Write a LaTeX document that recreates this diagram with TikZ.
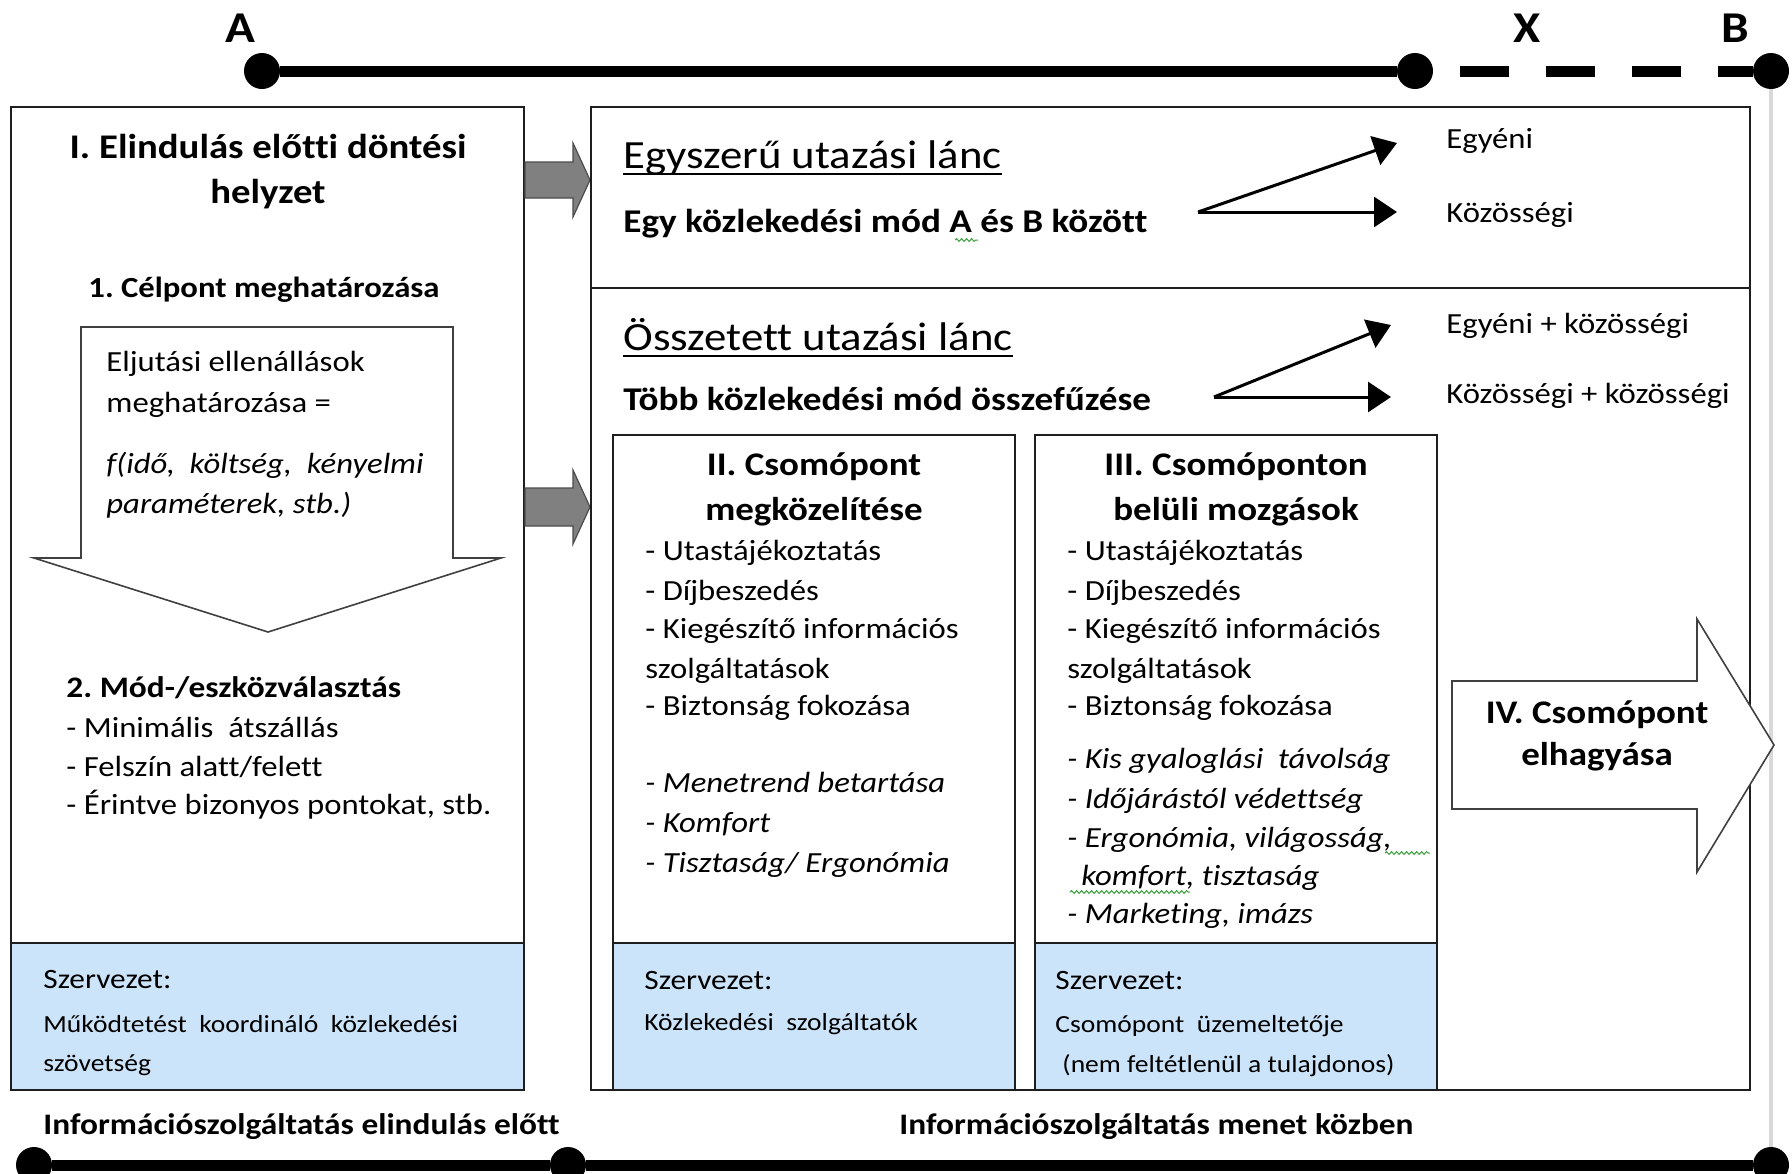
\documentclass[tikz,border=0pt]{standalone}
\usepackage{fontspec}
\setmainfont{Carlito}[FakeStretch=1.12, Ligatures={NoCommon}]
\usetikzlibrary{arrows.meta,decorations.pathmorphing}
\definecolor{orgblue}{RGB}{204,228,250}
\definecolor{boxline}{RGB}{30,30,30}
\definecolor{arrgray}{RGB}{128,128,128}
\definecolor{spellgreen}{RGB}{60,160,60}
\frenchspacing
\begin{document}
\begin{tikzpicture}[x=0.5pt,y=-0.5pt,
  txt/.style={inner sep=0pt, anchor=base west},
  ctxt/.style={inner sep=0pt, anchor=base},
  lab/.style={ctxt, font=\fontsize{22}{26}\selectfont\bfseries},
  ttl/.style={ctxt, font=\fontsize{17.3}{20}\selectfont\bfseries},
  hd/.style={txt, font=\fontsize{14.9}{18}\selectfont\bfseries},
  hdc/.style={ctxt, font=\fontsize{14.6}{18}\selectfont\bfseries},
  body/.style={txt, font=\fontsize{14.6}{17}\selectfont},
  bodyit/.style={txt, font=\fontsize{14.6}{17}\selectfont\itshape},
  big/.style={txt, font=\fontsize{20}{24}\selectfont},
  chain/.style={txt, font=\fontsize{16.6}{19}\selectfont\bfseries},
  nhd/.style={ctxt, font=\fontsize{16.5}{19}\selectfont\bfseries},
  orgh/.style={txt, font=\fontsize{14}{17}\selectfont},
  orgt/.style={txt, font=\fontsize{12.3}{15}\selectfont},
  frame/.style={draw=boxline, line width=1pt},
  org/.style={frame, fill=orgblue},
  conn/.style={line width=1.5pt, -{Triangle[length=11.5pt,width=15pt]}},
  blockarrow/.style={draw=black!75, line width=0.8pt, fill=white},
  grayarrow/.style={draw=black!70, line width=0.6pt, fill=arrgray},
  track/.style={line width=5.5pt},
  dotn/.style={circle, fill=black, inner sep=0pt, minimum size=18pt},
  spell/.style={draw=spellgreen, line width=0.5pt, decorate, decoration={snake, amplitude=0.7pt, segment length=2.5pt}},
  uline/.style={line width=1pt}
]
\useasboundingbox (0,0) rectangle (1792,1173);
\clip (0,0) rectangle (1792,1173);

% ---- track dots and guide line ----
\node[dotn] (A) at (262,71) {};
\node[dotn] (X) at (1415,71) {};
\node[dotn] (B) at (1771,71) {};
\node[dotn] (L1) at (34,1165) {};
\node[dotn] (L2) at (568,1165) {};
\node[dotn] (L3) at (1771,1165) {};
\draw[line width=2pt, draw=black!15] (B) -- (L3);
\draw[track] (A) -- (X);
\draw[track, dash pattern=on 24.5pt off 18.5pt, dash phase=29.5pt] (X) -- (B);
\draw[track] (L1) -- (L2) -- (L3);
\node[lab] (labA) at (240,42) {A};
\node[lab] (labX) at (1527,42) {X};
\node[lab] (labB) at (1735,42) {B};

% ---- left box ----
\draw[frame, fill=white] (11,107) rectangle (524,1090);
\draw[org] (11,943) rectangle (524,1090);
\node[ttl] (t1a) at (268,158) {I. Elindulás előtti döntési};
\node[ttl] (t1b) at (268,203) {helyzet};
\node[hdc] (c1) at (264,297) {1. Célpont meghatározása};
\draw[blockarrow] (81,327) -- (453,327) -- (453,558) -- (501,558) -- (268,632) -- (34,558) -- (81,558) -- cycle;
\node[body] (e1) at (106,371) {Eljutási ellenállások};
\node[body] (e2) at (106,412) {meghatározása =};
\node[bodyit] (e3) at (106,473) {f(idő, \ költség, \ kényelmi};
\node[bodyit] (e4) at (106,513) {paraméterek, stb.)};
\node[hd] (m0) at (66,697) {2. Mód-/eszközválasztás};
\node[body] (m1) at (66,737) {- Minimális \ átszállás};
\node[body] (m2) at (66,776) {- Felszín alatt/felett};
\node[body] (m3) at (66,814) {- Érintve bizonyos pontokat, stb.};
\node[orgh] (o1a) at (43,988) {Szervezet:};
\node[orgt] (o1b) at (43,1032) {Működtetést \ koordináló \ közlekedési};
\node[orgt] (o1c) at (43,1071) {szövetség};

% ---- gray arrows ----
\draw[grayarrow] (525,162) -- (573,162) -- (573,143) -- (590,180) -- (573,217) -- (573,198) -- (525,198) -- cycle;
\draw[grayarrow] (525,488) -- (573,488) -- (573,470) -- (590,507) -- (573,544) -- (573,526) -- (525,526) -- cycle;

% ---- right box ----
\draw[frame, fill=white] (591,107) rectangle (1750,1090);
\draw[frame] (591,288) -- (1750,288);
\node[big] (s1) at (623,168) {Egyszerű utazási lánc};
\draw[uline] ([yshift=-3pt]s1.base west) -- ([yshift=-3pt]s1.base east);
\node[chain] (s2) at (623,232) {Egy közlekedési mód A és B között};
\draw[spell] (955,240) -- (978,240);
\coordinate (sa) at (1198,212);
\coordinate (sa1) at (1397,143);
\coordinate (sa2) at (1397,212);
\draw[conn] (sa) -- (sa1);
\draw[conn] (sa) -- (sa2);
\node[body] (egy) at (1446,148) {Egyéni};
\node[body] (koz) at (1446,222) {Közösségi};

\node[big] (c2) at (623,350) {Összetett utazási lánc};
\draw[uline] ([yshift=-3pt]c2.base west) -- ([yshift=-3pt]c2.base east);
\node[chain] (c3) at (623,410) {Több közlekedési mód összefűzése};
\coordinate (ca) at (1214,397);
\coordinate (ca1) at (1391,325);
\coordinate (ca2) at (1391,397);
\draw[conn] (ca) -- (ca1);
\draw[conn] (ca) -- (ca2);
\node[body] (egyk) at (1446,333) {Egyéni + közösségi};
\node[body] (kozk) at (1446,403) {Közösségi + közösségi};

% ---- box II ----
\draw[frame] (613,435) rectangle (1015,1090);
\draw[org] (613,943) rectangle (1015,1090);
\node[nhd] (n2a) at (814,475) {II. Csomópont};
\node[nhd] (n2b) at (814,520) {megközelítése};
\node[body] (b2a) at (645,560) {- Utastájékoztatás};
\node[body] (b2b) at (645,600) {- Díjbeszedés};
\node[body] (b2c) at (645,638) {- Kiegészítő információs};
\node[body] (b2d) at (645,678) {szolgáltatások};
\node[body] (b2e) at (645,715) {- Biztonság fokozása};
\node[bodyit] (b2f) at (645,792) {- Menetrend betartása};
\node[bodyit] (b2g) at (645,832) {- Komfort};
\node[bodyit] (b2h) at (645,872) {- Tisztaság/ Ergonómia};
\node[orgh] (o2a) at (644,989) {Szervezet:};
\node[orgt] (o2b) at (644,1030) {Közlekedési \ szolgáltatók};

% ---- box III ----
\draw[frame] (1035,435) rectangle (1437,1090);
\draw[org] (1035,943) rectangle (1437,1090);
\node[nhd] (n3a) at (1236,475) {III. Csomóponton};
\node[nhd] (n3b) at (1236,520) {belüli mozgások};
\node[body] (b3a) at (1067,560) {- Utastájékoztatás};
\node[body] (b3b) at (1067,600) {- Díjbeszedés};
\node[body] (b3c) at (1067,638) {- Kiegészítő információs};
\node[body] (b3d) at (1067,678) {szolgáltatások};
\node[body] (b3e) at (1067,715) {- Biztonság fokozása};
\node[bodyit] (b3f) at (1067,768) {- Kis gyaloglási \ távolság};
\node[bodyit] (b3g) at (1067,808) {- Időjárástól védettség};
\node[bodyit] (b3h) at (1067,847) {- Ergonómia, világosság,};
\node[bodyit] (b3i) at (1081,885) {komfort, tisztaság};
\node[bodyit] (b3j) at (1067,923) {- Marketing, imázs};
\draw[spell] (1385,853) -- (1430,853);
\draw[spell] (1070,892) -- (1190,892);
\node[orgh] (o3a) at (1055,989) {Szervezet:};
\node[orgt] (o3b) at (1055,1032) {Csomópont \ üzemeltetője};
\node[orgt] (o3c) at (1062,1072) {(nem feltétlenül a tulajdonos)};

% ---- IV arrow ----
\draw[blockarrow] (1452,681) -- (1697,681) -- (1697,619) -- (1774,745) -- (1697,872) -- (1697,809) -- (1452,809) -- cycle;
\node[nhd] (iva) at (1597,723) {IV. Csomópont};
\node[nhd] (ivb) at (1597,765) {elhagyása};

% ---- bottom captions ----
\node[hd] (inf1) at (43,1134) {Információszolgáltatás elindulás előtt};
\node[hd] (inf2) at (899,1134) {Információszolgáltatás menet közben};
\end{tikzpicture}
\end{document}
